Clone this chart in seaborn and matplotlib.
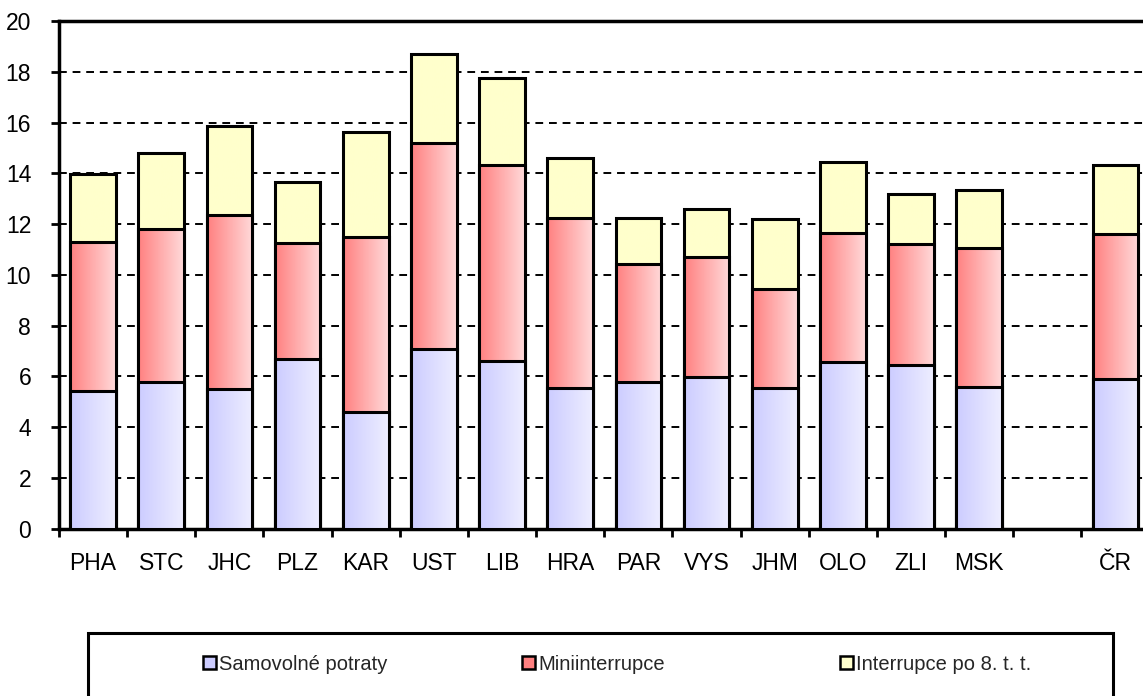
import numpy as np
import pandas as pd
import matplotlib
matplotlib.use("Agg")
import matplotlib.pyplot as plt
import seaborn as sns
from matplotlib.patches import Rectangle, Patch

regions = ["PHA", "STC", "JHC", "PLZ", "KAR", "UST", "LIB", "HRA", "PAR",
           "VYS", "JHM", "OLO", "ZLI", "MSK", " ", "ČR"]
samovolne = [5.42, 5.78, 5.50, 6.68, 4.59, 7.08, 6.60, 5.54, 5.78, 5.97, 5.54,
             6.57, 6.45, 5.58, np.nan, 5.89]
mini = [5.88, 6.03, 6.86, 4.58, 6.90, 8.12, 7.73, 6.70, 4.65, 4.74, 3.90,
        5.08, 4.77, 5.48, np.nan, 5.72]
interrupce = [2.68, 3.00, 3.51, 2.40, 4.14, 3.51, 3.43, 2.37, 1.81, 1.89, 2.76,
              2.80, 1.97, 2.29, np.nan, 2.72]
series_names = ["Samovolné potraty", "Miniinterrupce", "Interrupce po 8. t. t."]
yticks = [0, 2, 4, 6, 8, 10, 12, 14, 16, 18, 20]

sns.set_theme(style="white")
plt.rcParams["font.family"] = ["Liberation Sans", "DejaVu Sans"]

df = pd.DataFrame({"region": regions, "s": samovolne, "m": mini, "i": interrupce})
df["lvl1"] = df["s"]
df["lvl2"] = df["s"] + df["m"]
df["lvl3"] = df["s"] + df["m"] + df["i"]

fig = plt.figure(figsize=(11.43, 6.96), dpi=100)
ax = fig.add_axes([59 / 1143, 1 - 528.5 / 696, 1090.6 / 1143, (528.5 - 21) / 696])

grads = {
    "lvl3": ("#ffffcc", "#ffffcc"),
    "lvl2": ("#ff8080", "#ffdada"),
    "lvl1": ("#ccccff", "#eeeeff"),
}
legend_cols = ["#ccccff", "#ff8080", "#ffffcc"]

def hex2rgb(h):
    h = h.lstrip("#")
    return np.array([int(h[i:i + 2], 16) / 255 for i in (0, 2, 4)])

zbase = {"lvl3": 2, "lvl2": 3, "lvl1": 4}
width = 0.67
for col in ["lvl3", "lvl2", "lvl1"]:
    z = zbase[col]
    before = len(ax.patches)
    sns.barplot(data=df, x="region", y=col, order=regions, color=grads[col][0],
                saturation=1, width=width, linewidth=0, ax=ax, zorder=z,
                errorbar=None)
    new = ax.patches[before:]
    c0, c1 = hex2rgb(grads[col][0]), hex2rgb(grads[col][1])
    t = np.linspace(0, 1, 64)
    img = (c0[None, :] * (1 - t[:, None]) + c1[None, :] * t[:, None])[None, :, :]
    for p in new:
        x0, y0 = p.get_x(), p.get_y()
        w, h = p.get_width(), p.get_height()
        if not np.isfinite(h) or h == 0:
            continue
        im = ax.imshow(img, extent=[x0, x0 + w, y0, y0 + h], aspect="auto",
                       origin="lower", zorder=z + 0.05, interpolation="bilinear")
        im.set_clip_path(p)
    sns.barplot(data=df, x="region", y=col, order=regions, fill=False,
                color="black", edgecolor="black", width=width, linewidth=2.2,
                ax=ax, zorder=z + 0.1, errorbar=None)

ax.set_xlim(-0.5, 15.5)
ax.set_ylim(0, 20)
ax.set_yticks(yticks)
ax.set_xlabel("")
ax.set_ylabel("")
ax.yaxis.grid(True, linestyle=(0, (4, 3)), color="black", linewidth=1.4)
ax.xaxis.grid(False)
ax.set_axisbelow(True)

for s in ["left", "top", "bottom", "right"]:
    ax.spines[s].set_visible(True)
    ax.spines[s].set_color("black")
    ax.spines[s].set_linewidth(2.5)

ax.tick_params(axis="y", which="major", direction="out", length=6, width=2,
               color="black", labelsize=16.5, pad=14, left=True)
ax.set_xticks(np.arange(len(regions)))
ax.set_xticklabels(regions)
ax.set_xticks(np.arange(-0.5, 15.5, 1.0), minor=True)
ax.tick_params(axis="x", which="major", length=0, labelsize=16.5, pad=17, bottom=True)
ax.tick_params(axis="x", which="minor", direction="out", length=6, width=2,
               color="black", bottom=True)
for lab in ax.get_xticklabels() + ax.get_yticklabels():
    lab.set_color("black")

# legend frame
fig.patches.append(Rectangle((88 / 1143, -0.05), (1113 - 88) / 1143, (1 - 633 / 696) + 0.05,
                             transform=fig.transFigure, fill=False,
                             edgecolor="black", linewidth=2.2, zorder=1))
square_x = [203, 522, 840]
for name, c, sx in zip(series_names, legend_cols, square_x):
    h = Patch(facecolor=c, edgecolor="black", linewidth=1.8)
    fig.legend([h], [name], loc="center left",
               bbox_to_anchor=(sx / 1143, 1 - 664 / 696), frameon=False,
               fontsize=14.5, handlelength=0.65, handleheight=0.65,
               handletextpad=0.15, borderpad=0, borderaxespad=0)

fig.savefig("out.png", dpi=100)
